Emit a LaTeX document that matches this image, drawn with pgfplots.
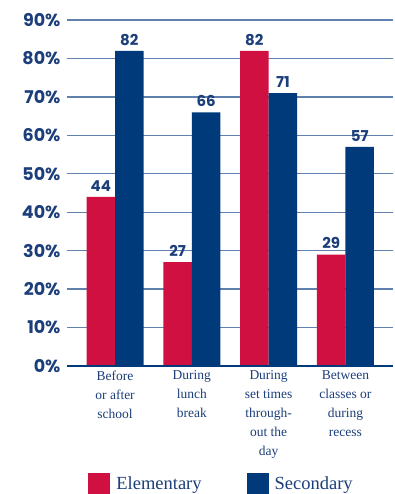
\documentclass[border=0pt]{standalone}
\usepackage{pgfplots}
\pgfplotsset{compat=1.18}
\usepackage{fontspec}
\setmainfont{Liberation Serif}
\newfontfamily\numfont{Poppins}
\definecolor{elem}{RGB}{208,16,64}
\definecolor{second}{RGB}{0,58,122}
\definecolor{txt}{RGB}{28,62,122}
\definecolor{gridc}{RGB}{96,128,176}

\pgfplotstableread{
x elem second
0 44 82
1 27 66
2 82 71
3 29 57
}\usage

\begin{document}
\begin{tikzpicture}
% frame of the whole figure (axis box: 326pt x 346pt, lower-left at origin)
\useasboundingbox (-67pt,-128pt) rectangle (328pt,366pt);
\begin{axis}[
  scale only axis,
  width=326pt, height=346pt,
  ybar=0pt, bar width=28.5pt,
  xmin=-0.626, xmax=3.62,
  ymin=0, ymax=90,
  axis lines=none,
  ymajorgrids,
  major grid style={gridc, line width=1.3pt},
  ytick={0,10,...,90},
  major tick length=0pt,
  yticklabel={\pgfmathparse{int(\tick)}\pgfmathresult\%},
  yticklabel style={font=\numfont\bfseries\fontsize{17.5}{17.5}\selectfont, text=txt, anchor=east, xshift=-3pt},
  xtick=data,
  xticklabels={Before\\or after\\school, During\\lunch\\break, During\\set times\\through-\\out the\\day, Between\\classes or\\during\\recess},
  xticklabel style={align=center, font=\fontsize{13.5}{19}\selectfont, text=txt, anchor=north, yshift=-1pt},
  hide x axis=false, hide y axis=false,
  x axis line style={draw=none}, y axis line style={draw=none},
  nodes near coords={\pgfmathprintnumber[assume math mode=true]{\pgfplotspointmeta}},
  nodes near coords style={font=\numfont\bfseries\fontsize{15}{15}\selectfont, text=txt, yshift=2pt},
  legend columns=2,
  legend style={draw=none, fill=none, at={(0.474,-0.341)}, anchor=center,
    font=\fontsize{18.5}{20}\selectfont, text=txt,
    /tikz/every even column/.append style={column sep=43pt}},
  legend image code/.code={\fill (0pt,-11pt) rectangle (22pt,11pt);},
]
\addplot[fill=elem, draw=none] table[x=x, y=elem] {\usage};
\addplot[fill=second, draw=none] table[x=x, y=second] {\usage};
\draw[second, line width=1.3pt] (axis cs:-0.626,0) -- (axis cs:3.62,0);
\legend{\hspace{4pt}Elementary, \hspace{4pt}Secondary}
\end{axis}
\end{tikzpicture}
\end{document}
